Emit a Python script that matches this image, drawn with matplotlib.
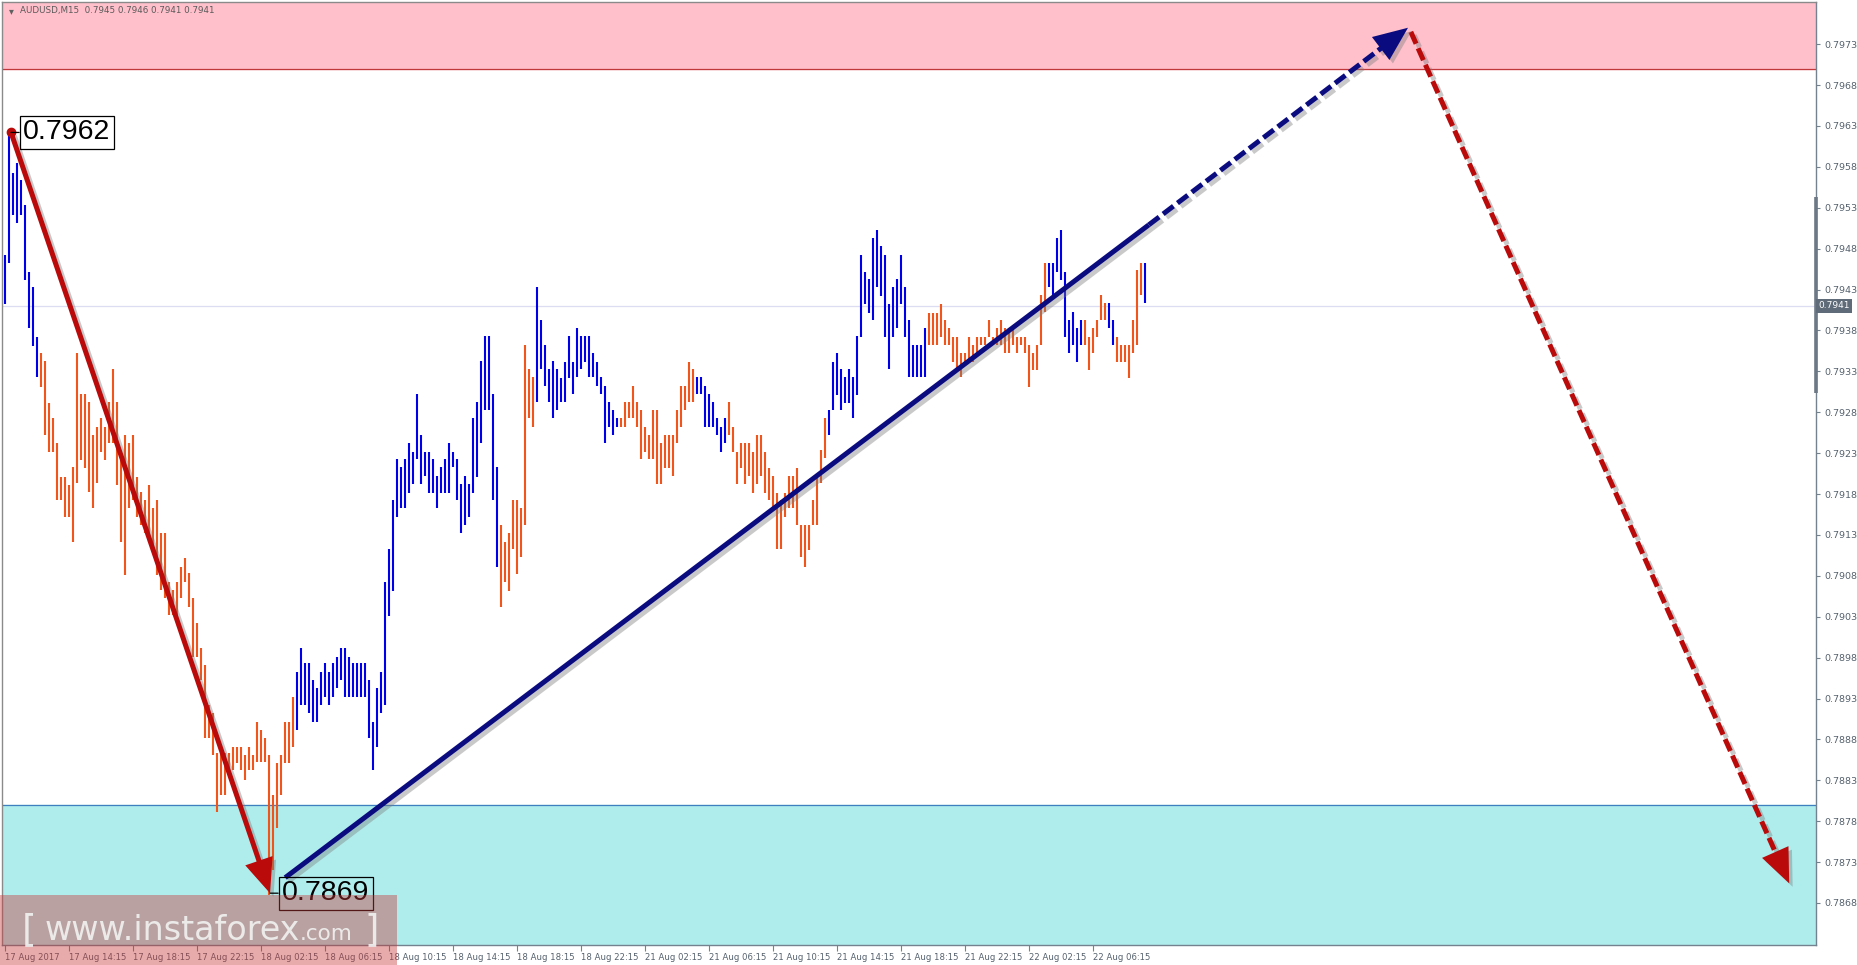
import matplotlib
matplotlib.use("Agg")
import matplotlib.pyplot as plt
import matplotlib.patheffects as pe
from matplotlib.patches import Rectangle
import numpy as np

# ---------------- data ----------------
symbol = "AUDUSD,M15"
last_ohlc = ["0.7945", "0.7946", "0.7941", "0.7941"]

bar_high = [
    0.79472, 0.79623, 0.79572, 0.79585, 0.79564, 0.79533, 0.79451, 0.79433, 0.79372, 0.79352,
    0.79343, 0.79291, 0.79273, 0.79242, 0.79201, 0.79201, 0.79191, 0.79213, 0.79352, 0.79302,
    0.79302, 0.79292, 0.79252, 0.79262, 0.79273, 0.79262, 0.79292, 0.79333, 0.79292, 0.79222,
    0.79252, 0.79242, 0.79252, 0.79201, 0.79182, 0.79173, 0.79191, 0.79163, 0.79173, 0.79132,
    0.79132, 0.79072, 0.79063, 0.79072, 0.79091, 0.79102, 0.79083, 0.79053, 0.79022, 0.78992,
    0.78971, 0.78922, 0.78912, 0.78863, 0.78863, 0.78863, 0.78863, 0.78871, 0.78871, 0.78871,
    0.78861, 0.78871, 0.78861, 0.78901, 0.78892, 0.78882, 0.78861, 0.78812, 0.78851, 0.78861,
    0.78901, 0.78901, 0.78932, 0.78962, 0.78992, 0.78973, 0.78973, 0.78953, 0.78943, 0.78962,
    0.78973, 0.78962, 0.78973, 0.78981, 0.78992, 0.78992, 0.78981, 0.78973, 0.78973, 0.78973,
    0.78973, 0.78953, 0.78901, 0.78943, 0.78962, 0.79072, 0.79113, 0.79173, 0.79223, 0.79213,
    0.79223, 0.79242, 0.79231, 0.79302, 0.79252, 0.79231, 0.79231, 0.79223, 0.79202, 0.79213,
    0.79223, 0.79242, 0.79231, 0.79223, 0.79192, 0.79202, 0.79192, 0.79273, 0.79292, 0.79343,
    0.79373, 0.79373, 0.79302, 0.79213, 0.79142, 0.79121, 0.79132, 0.79173, 0.79173, 0.79163,
    0.79362, 0.79333, 0.79323, 0.79433, 0.79393, 0.79362, 0.79333, 0.79343, 0.79333, 0.79322,
    0.79341, 0.79373, 0.79341, 0.79383, 0.79373, 0.79373, 0.79373, 0.79352, 0.79341, 0.79323,
    0.79312, 0.79292, 0.79283, 0.79273, 0.79273, 0.79292, 0.79292, 0.79312, 0.79292, 0.79283,
    0.79262, 0.79252, 0.79283, 0.79283, 0.79242, 0.79252, 0.79252, 0.79252, 0.79283, 0.79312,
    0.79312, 0.79341, 0.79333, 0.79323, 0.79323, 0.79312, 0.79302, 0.79292, 0.79273, 0.79262,
    0.79273, 0.79292, 0.79262, 0.79231, 0.79242, 0.79242, 0.79242, 0.79231, 0.79252, 0.79252,
    0.79231, 0.79212, 0.79202, 0.79181, 0.79173, 0.79181, 0.79202, 0.79202, 0.79212, 0.79142,
    0.79142, 0.79142, 0.79173, 0.79203, 0.79234, 0.79273, 0.79283, 0.79341, 0.79352, 0.79333,
    0.79323, 0.79333, 0.79323, 0.79373, 0.79472, 0.79451, 0.79443, 0.79493, 0.79503, 0.79483,
    0.79472, 0.79412, 0.79433, 0.79443, 0.79472, 0.79433, 0.79393, 0.79362, 0.79362, 0.79362,
    0.79383, 0.79401, 0.79401, 0.79401, 0.79412, 0.79393, 0.79383, 0.79372, 0.79372, 0.79352,
    0.79352, 0.79372, 0.79362, 0.79372, 0.79372, 0.79372, 0.79393, 0.79372, 0.79383, 0.79393,
    0.79383, 0.79383, 0.79383, 0.79372, 0.79372, 0.79372, 0.79362, 0.79352, 0.79362, 0.79423,
    0.79462, 0.79462, 0.79462, 0.79493, 0.79503, 0.79451, 0.79393, 0.79402, 0.79383, 0.79393,
    0.79393, 0.79372, 0.79383, 0.79393, 0.79423, 0.79413, 0.79413, 0.79393, 0.79372, 0.79362,
    0.79362, 0.79362, 0.79393, 0.79454, 0.79462, 0.79462,
]
bar_low = [
    0.79412, 0.79462, 0.79521, 0.79511, 0.79521, 0.79442, 0.79383, 0.79361, 0.79323, 0.79311,
    0.79252, 0.79231, 0.79231, 0.79173, 0.79173, 0.79152, 0.79152, 0.79121, 0.79193, 0.79222,
    0.79212, 0.79182, 0.79163, 0.79193, 0.79231, 0.79222, 0.79242, 0.79242, 0.79191, 0.79121,
    0.79081, 0.79163, 0.79173, 0.79152, 0.79142, 0.79132, 0.79121, 0.79112, 0.79081, 0.79063,
    0.79053, 0.79032, 0.79032, 0.79032, 0.79053, 0.79072, 0.79042, 0.78981, 0.78981, 0.78953,
    0.78882, 0.78882, 0.78861, 0.78791, 0.78812, 0.78812, 0.78843, 0.78843, 0.78851, 0.78843,
    0.78830, 0.78843, 0.78843, 0.78852, 0.78852, 0.78852, 0.78690, 0.78720, 0.78772, 0.78812,
    0.78851, 0.78851, 0.78871, 0.78892, 0.78922, 0.78922, 0.78912, 0.78901, 0.78901, 0.78922,
    0.78932, 0.78922, 0.78932, 0.78943, 0.78953, 0.78932, 0.78932, 0.78932, 0.78932, 0.78932,
    0.78932, 0.78882, 0.78843, 0.78871, 0.78912, 0.78922, 0.79031, 0.79062, 0.79152, 0.79163,
    0.79163, 0.79181, 0.79192, 0.79223, 0.79192, 0.79202, 0.79181, 0.79181, 0.79163, 0.79181,
    0.79181, 0.79181, 0.79213, 0.79173, 0.79132, 0.79142, 0.79152, 0.79181, 0.79201, 0.79242,
    0.79283, 0.79283, 0.79173, 0.79091, 0.79042, 0.79072, 0.79062, 0.79113, 0.79082, 0.79103,
    0.79142, 0.79273, 0.79262, 0.79292, 0.79333, 0.79312, 0.79292, 0.79273, 0.79283, 0.79292,
    0.79292, 0.79322, 0.79302, 0.79323, 0.79333, 0.79341, 0.79323, 0.79323, 0.79312, 0.79302,
    0.79242, 0.79262, 0.79252, 0.79262, 0.79262, 0.79262, 0.79273, 0.79273, 0.79262, 0.79223,
    0.79231, 0.79223, 0.79223, 0.79192, 0.79192, 0.79212, 0.79212, 0.79202, 0.79242, 0.79262,
    0.79283, 0.79292, 0.79292, 0.79302, 0.79302, 0.79262, 0.79262, 0.79262, 0.79252, 0.79231,
    0.79242, 0.79252, 0.79231, 0.79192, 0.79212, 0.79192, 0.79202, 0.79181, 0.79192, 0.79202,
    0.79181, 0.79173, 0.79163, 0.79113, 0.79113, 0.79152, 0.79163, 0.79163, 0.79142, 0.79103,
    0.79091, 0.79112, 0.79142, 0.79142, 0.79193, 0.79224, 0.79252, 0.79283, 0.79301, 0.79283,
    0.79291, 0.79291, 0.79273, 0.79301, 0.79372, 0.79412, 0.79401, 0.79393, 0.79433, 0.79422,
    0.79372, 0.79333, 0.79372, 0.79383, 0.79412, 0.79372, 0.79323, 0.79323, 0.79323, 0.79323,
    0.79323, 0.79362, 0.79362, 0.79362, 0.79372, 0.79362, 0.79362, 0.79341, 0.79333, 0.79323,
    0.79341, 0.79341, 0.79341, 0.79352, 0.79362, 0.79362, 0.79372, 0.79362, 0.79362, 0.79362,
    0.79352, 0.79352, 0.79362, 0.79352, 0.79362, 0.79352, 0.79311, 0.79332, 0.79332, 0.79362,
    0.79402, 0.79433, 0.79423, 0.79451, 0.79442, 0.79372, 0.79352, 0.79362, 0.79341, 0.79362,
    0.79362, 0.79332, 0.79352, 0.79372, 0.79393, 0.79393, 0.79383, 0.79362, 0.79341, 0.79341,
    0.79341, 0.79322, 0.79352, 0.79362, 0.79423, 0.79413,
]
trend_runs = [("up", 9), ("down", 64), ("up", 51), ("down", 9), ("up", 21), ("down", 19),
              ("up", 8), ("down", 25), ("up", 25), ("down", 30), ("up", 9), ("down", 6),
              ("up", 2), ("down", 7), ("up", 1)]

time_labels = ["17 Aug 2017", "17 Aug 14:15", "17 Aug 18:15", "17 Aug 22:15",
               "18 Aug 02:15", "18 Aug 06:15", "18 Aug 10:15", "18 Aug 14:15",
               "18 Aug 18:15", "18 Aug 22:15", "21 Aug 02:15", "21 Aug 06:15",
               "21 Aug 10:15", "21 Aug 14:15", "21 Aug 18:15", "21 Aug 22:15",
               "22 Aug 02:15", "22 Aug 06:15"]
bars_per_label = 16

price_ticks = [0.7868, 0.7873, 0.7878, 0.7883, 0.7888, 0.7893, 0.7898, 0.7903, 0.7908,
               0.7913, 0.7918, 0.7923, 0.7928, 0.7933, 0.7938, 0.7943, 0.7948, 0.7953,
               0.7958, 0.7963, 0.7968, 0.7973]
current_price = 0.7941
sell_zone_low = 0.7970
buy_zone_high = 0.7880
scale_marker = (0.79303, 0.79543)

# wave points: (bar index, price)
wave_a = [(1.45, 0.79622), (66.2, 0.78692)]       # completed down wave
wave_b = [(70.0, 0.78711), (285.9, 0.79509)]      # completed up wave
wave_b_fc = [(285.9, 0.79509), (350.7, 0.79750)]  # forecast continuation
wave_c_fc = [(351.4, 0.79745), (446.0, 0.78704)]  # forecast decline
wave_labels = [("0.7962", 1.45, 0.79622), ("0.7869", 66.2, 0.78692)]
watermark_parts = [("[", 27), ("www.instaforex", 24), (".com", 15.5), (" ]", 27)]

# ---------------- figure ----------------
W, H, DPI = 1858, 965, 100
fig = plt.figure(figsize=(W / DPI, H / DPI), dpi=DPI, facecolor="white")
L, R, T, B = 2, 1816, 2, 945
ax = fig.add_axes([L / W, 1 - B / H, (R - L) / W, (B - T) / H])
ax.set_facecolor("white")

X_PER_BAR, X0 = 4.0, 5.2
Y_PER_PRICE, Y_REF, P_REF = 81800.0, 903.0, 0.7868
ax.set_xlim((L - X0) / X_PER_BAR, (R - X0) / X_PER_BAR)
ax.set_ylim(P_REF - (B - Y_REF) / Y_PER_PRICE, P_REF + (Y_REF - T) / Y_PER_PRICE)
ymin, ymax = ax.get_ylim()

BLUE = "#0000e8"
ORANGE = "#f0561a"
RED = "#bb0a0a"
NAVY = "#0b0b80"
AXC = "#74818e"

# zones
ax.axhspan(sell_zone_low, ymax, color="#ffc0cb", zorder=0)
ax.axhline(sell_zone_low, color="#c0383a", lw=0.9, zorder=1)
ax.axhspan(ymin, buy_zone_high, color="#afeded", zorder=0)
ax.axhline(buy_zone_high, color="#3f7fbf", lw=0.9, zorder=1)
ax.axhline(current_price, color="#dcdcf2", lw=0.9, zorder=1)

# bars
trend = np.concatenate([[d] * k for d, k in trend_runs])
idx = np.arange(len(bar_high))
cols = np.where(trend == "up", BLUE, ORANGE)
vl = ax.vlines(idx, bar_low, bar_high, colors=cols, lw=1.5, zorder=3)
vl.set_capstyle("butt")

# waves
shadow = [pe.SimpleLineShadow(offset=(2.5, -2.5), shadow_color="#7a7a7a", alpha=0.4), pe.Normal()]
pshadow = [pe.SimplePatchShadow(offset=(2.5, -2.5), shadow_rgbFace="#7a7a7a", alpha=0.4), pe.Normal()]


def shorten(p0, p1, px):
    d0 = ax.transData.transform(p0)
    d1 = ax.transData.transform(p1)
    v = d1 - d0
    n = np.hypot(*v)
    d2 = d1 - v / n * px
    return tuple(ax.transData.inverted().transform(d2))


def head(p0, p1, color):
    back = (p1[0] - 0.15 * (p1[0] - p0[0]), p1[1] - 0.15 * (p1[1] - p0[1]))
    ax.annotate("", xy=p1, xytext=back, zorder=7,
                arrowprops=dict(arrowstyle="-|>,head_length=1.9,head_width=0.8",
                                mutation_scale=13, fc=color, ec=color, lw=0,
                                shrinkA=0, shrinkB=0, path_effects=pshadow))


def wave(p0, p1, color, dashed=False, arrow=False):
    end = shorten(p0, p1, 20) if arrow else p1
    kw = dict(color=color, lw=3.6, solid_capstyle="butt", zorder=6, path_effects=shadow)
    if dashed:
        kw["linestyle"] = (0, (2.6, 1.0))
        kw["dash_capstyle"] = "butt"
    ax.plot([p0[0], end[0]], [p0[1], end[1]], **kw)
    if arrow:
        head(p0, p1, color)


wave(wave_a[0], wave_a[1], RED, arrow=True)
ax.plot([wave_a[0][0]], [wave_a[0][1]], "o", color=RED, ms=6, zorder=7)
wave(wave_b[0], wave_b[1], NAVY)
wave(wave_b_fc[0], wave_b_fc[1], NAVY, dashed=True, arrow=True)
wave(wave_c_fc[0], wave_c_fc[1], RED, dashed=True, arrow=True)

# price labels at wave points
for txt, bx, py in wave_labels:
    ax.annotate(txt, xy=(bx, py), xytext=(12, 0), textcoords="offset pixels",
                ha="left", va="center", fontsize=20.5, family="Liberation Sans",
                color="black", zorder=8,
                bbox=dict(boxstyle="square,pad=0.12", fc="none", ec="black", lw=0.9),
                arrowprops=dict(arrowstyle="-", color="black", lw=0.9, shrinkA=0, shrinkB=0))

# axes styling
for s in ax.spines.values():
    s.set_color(AXC)
    s.set_linewidth(1.0)
ax.spines["left"].set_color("#8a8a8a")
ax.spines["top"].set_color("#8a8a8a")

ax.yaxis.tick_right()
ax.set_yticks(price_ticks)
ax.set_yticklabels([f"{p:.4f}" for p in price_ticks])
ax.tick_params(axis="y", direction="out", length=3, width=0.8, color=AXC,
               labelsize=6.8, labelcolor="#55616d", pad=3)

xt = np.arange(len(time_labels)) * bars_per_label
ax.set_xticks(xt)
ax.set_xticklabels(time_labels)
ax.tick_params(axis="x", direction="out", length=4, width=0.8, color=AXC,
               labelsize=6.1, labelcolor="#55616d", pad=2)
for lab in ax.get_xticklabels():
    lab.set_horizontalalignment("left")

# scale marker on right axis
ax.plot([1, 1], list(scale_marker), transform=ax.get_yaxis_transform(),
        color="#6c7885", lw=2.6, clip_on=False, zorder=9, solid_capstyle="butt")

# current price tag
ax.text(1.0015, current_price, f"{current_price:.4f}", transform=ax.get_yaxis_transform(),
        ha="left", va="center", fontsize=6.5, color="white", zorder=10,
        bbox=dict(boxstyle="square,pad=0.25", fc="#5f6b78", ec="none"), clip_on=False)

# header
fig.text(9 / W, 1 - 11 / H, "\u25be", fontsize=7, color="#606060", ha="left", va="center")
fig.text(20 / W, 1 - 11 / H, f"{symbol}  " + " ".join(last_ohlc), fontsize=6.3,
         color="#5a5a5a", ha="left", va="center")

# watermark
fig.add_artist(Rectangle((0, 0), 397 / W, 70 / H, transform=fig.transFigure,
                         facecolor=(0.78, 0.22, 0.22), alpha=0.42, edgecolor="none", zorder=20))
renderer = fig.canvas.get_renderer()
xpos = 22
gaps = [8, 0, 0, 0]
for (txt, fs), g in zip(watermark_parts, gaps):
    t = fig.text(xpos / W, 1 - 940 / H, txt, fontsize=fs, color="#f2f2f2", alpha=0.9,
                 va="baseline", ha="left", zorder=21, family="DejaVu Sans")
    bb = t.get_window_extent(renderer)
    xpos += bb.width + g

fig.savefig("out.png", dpi=DPI, facecolor="white")
